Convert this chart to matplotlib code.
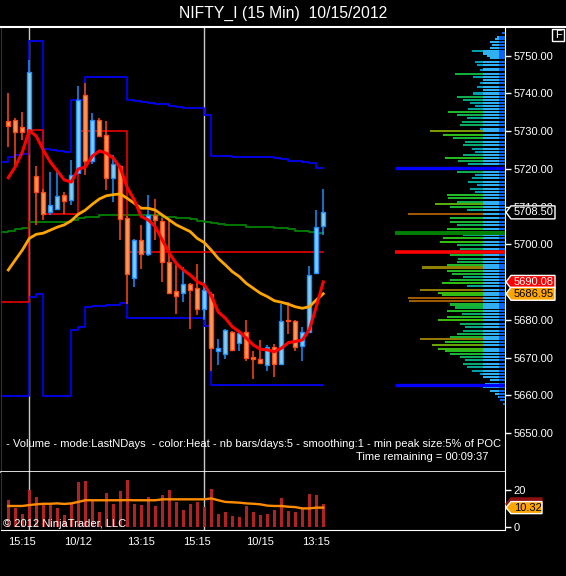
import numpy as np
import matplotlib
matplotlib.use('Agg')
import matplotlib.pyplot as plt
from matplotlib.colors import LinearSegmentedColormap
from matplotlib.patches import Polygon, Rectangle
from matplotlib.lines import Line2D

plt.rcParams['font.family'] = ['Liberation Sans', 'DejaVu Sans']

# ---- 15 min bars, NIFTY_I ----
opens = [5732.7, 5733.0, 5731.0, 5729.9, 5718.1, 5713.8, 5708.6, 5709.5, 5713.2, 5711.9,
         5719.0, 5739.7, 5722.2, 5733.1, 5729.1, 5717.7, 5720.7, 5706.9, 5691.2, 5701.1,
         5697.4, 5707.9, 5706.2, 5695.4, 5687.6, 5687.1, 5689.6, 5688.6, 5683.0, 5687.0,
         5671.8, 5671.1, 5676.8, 5673.9, 5676.8, 5670.3, 5669.7, 5668.1, 5672.8, 5668.4,
         5680.0, 5679.7, 5673.0, 5676.8, 5692.5, 5704.9]
highs = [5740.2, 5733.4, 5735.1, 5749.0, 5720.8, 5714.8, 5719.2, 5719.5, 5714.0, 5722.5,
         5742.0, 5742.8, 5734.9, 5733.4, 5732.8, 5723.7, 5721.0, 5707.5, 5701.5, 5705.1,
         5713.0, 5712.0, 5706.9, 5706.4, 5694.5, 5694.0, 5689.8, 5694.7, 5690.1, 5687.4,
         5675.0, 5677.7, 5677.2, 5677.2, 5679.9, 5671.9, 5674.8, 5673.5, 5673.7, 5684.2,
         5684.8, 5679.9, 5678.1, 5694.2, 5709.1, 5714.8]
lows = [5725.9, 5721.0, 5727.8, 5729.5, 5705.1, 5706.4, 5707.8, 5709.1, 5708.0, 5710.4,
        5718.8, 5718.4, 5721.3, 5728.5, 5714.4, 5711.3, 5701.1, 5684.3, 5688.7, 5693.6,
        5697.0, 5701.1, 5690.1, 5687.0, 5681.7, 5684.8, 5677.7, 5681.2, 5679.9, 5666.6,
        5668.0, 5669.7, 5671.9, 5671.9, 5669.1, 5664.4, 5668.6, 5666.6, 5664.9, 5668.2,
        5676.4, 5671.8, 5669.1, 5676.6, 5692.1, 5702.4]
closes = [5731.4, 5729.9, 5729.9, 5745.6, 5714.0, 5708.2, 5710.4, 5712.8, 5711.5, 5718.3,
          5738.4, 5722.2, 5733.1, 5728.8, 5717.7, 5721.2, 5706.7, 5692.3, 5701.1, 5697.6,
          5707.9, 5706.6, 5695.4, 5687.1, 5686.35, 5689.6, 5688.0, 5683.0, 5688.0, 5672.65,
          5672.65, 5677.4, 5672.1, 5676.6, 5670.0, 5669.6, 5668.7, 5672.8, 5668.4, 5679.7,
          5679.8, 5672.8, 5676.8, 5692.0, 5704.5, 5708.5]
volumes = [14.4, 10.3, 6.9, 19.8, 16.1, 11.7, 11.7, 10.1, 6.3, 12.1,
           24.2, 24.7, 14.1, 7.9, 18.2, 12.3, 19.3, 25.2, 12.3, 11.7,
           16.1, 11.2, 17.1, 19.8, 13.4, 9.0, 12.3, 13.4, 10.6, 20.4,
           6.9, 7.9, 5.8, 5.2, 11.2, 7.9, 6.3, 6.9, 9.0, 15.5,
           8.5, 7.9, 9.6, 17.7, 17.1, 12.3]
vol_ma = [11.2, 11.2, 11.2, 11.7, 12.1, 12.4, 12.4, 12.6, 12.3, 12.6,
          13.4, 14.3, 14.3, 14.3, 14.3, 14.3, 14.3, 14.4, 14.3, 14.3,
          14.3, 14.3, 14.8, 14.8, 14.8, 14.8, 14.8, 14.8, 14.8, 15.3,
          14.3, 13.4, 13.2, 13.0, 12.6, 12.4, 12.1, 11.4, 11.2, 11.2,
          10.8, 10.6, 9.9, 9.9, 10.3, 10.32]

ema_fast = [5717.7, 5720.6, 5724.5, 5730.2, 5728.7, 5725.0, 5721.85, 5719.5, 5717.1, 5716.55,
            5720.0, 5720.5, 5723.4, 5724.8, 5724.2, 5722.9, 5720.3, 5715.0, 5711.8, 5707.4,
            5706.5, 5704.7, 5701.2, 5697.7, 5695.0, 5693.25, 5691.9, 5690.15, 5689.3, 5686.4,
            5682.1, 5680.5, 5678.2, 5676.9, 5675.2, 5673.4, 5672.25, 5672.1, 5671.6, 5672.5,
            5674.0, 5674.3, 5674.7, 5677.4, 5683.5, 5690.08]
ema_slow = [5693.25, 5695.9, 5698.5, 5701.6, 5702.7, 5703.0, 5703.8, 5704.6, 5705.2, 5706.3,
            5708.0, 5709.1, 5710.65, 5712.05, 5712.9, 5713.2, 5713.4, 5712.2, 5710.9, 5709.6,
            5709.6, 5709.1, 5707.8, 5706.5, 5705.2, 5704.3, 5703.4, 5701.6, 5700.5, 5698.5,
            5696.3, 5694.6, 5692.8, 5691.5, 5689.7, 5688.4, 5687.1, 5686.2, 5685.1, 5684.7,
            5684.2, 5683.5, 5683.1, 5683.5, 5685.3, 5686.95]

# step indicators, first value belongs to the bar before the first visible one
va_high = [5721.9, 5723.25, 5723.7, 5723.9, 5753.9, 5753.9, 5725.2, 5725.0, 5724.8, 5724.4,
           5738.3, 5738.3, 5744.3, 5744.3, 5744.3, 5744.3, 5744.3, 5744.3, 5738.3, 5738.0,
           5737.7, 5737.4, 5737.1, 5737.1, 5736.7, 5736.3, 5736.1, 5736.1, 5736.1, 5734.3,
           5723.4, 5723.4, 5723.4, 5723.1, 5723.1, 5723.1, 5723.1, 5723.1, 5723.1, 5722.8,
           5722.6, 5722.2, 5722.2, 5721.9, 5721.5, 5720.2, 5720.2]
va_low = [5659.9, 5659.9, 5659.9, 5659.9, 5686.0, 5686.9, 5659.9, 5659.9, 5659.9, 5659.9,
          5677.4, 5678.1, 5683.4, 5683.6, 5683.6, 5684.0, 5684.0, 5684.4, 5680.5, 5680.5,
          5680.5, 5680.5, 5680.5, 5680.5, 5680.5, 5680.5, 5680.5, 5680.5, 5680.5, 5678.4,
          5662.8, 5662.8, 5662.8, 5662.8, 5662.8, 5662.8, 5662.8, 5662.8, 5662.8, 5662.8,
          5662.8, 5662.8, 5662.8, 5662.8, 5662.8, 5662.8, 5662.8]
vwap = [5703.2, 5703.6, 5704.0, 5704.3, 5705.9, 5705.9, 5705.9, 5705.9, 5705.9, 5705.9,
        5706.5, 5706.9, 5707.4, 5707.4, 5707.8, 5707.8, 5707.8, 5707.8, 5707.8, 5707.8,
        5707.8, 5707.8, 5707.8, 5707.2, 5707.2, 5706.9, 5706.9, 5706.7, 5706.3, 5706.0,
        5705.6, 5705.35, 5705.1, 5705.1, 5705.1, 5704.7, 5704.6, 5704.6, 5704.6, 5704.3,
        5704.3, 5704.0, 5703.65, 5703.5, 5703.2, 5703.1, 5703.1]
poc = [5684.7, 5684.7, 5684.7, 5684.7, 5730.3, 5730.3, 5708.0, 5708.0, 5708.0, 5708.0,
       5708.0, 5730.0, 5730.0, 5730.0, 5730.0, 5730.0, 5730.0, 5730.0] + [5697.9] * 29

# volume profile (price level, length)
prof_price = [5756.0, 5755.0, 5754.5, 5753.7, 5752.8, 5752.0, 5751.3, 5750.6, 5750.0, 5749.3,
              5748.4, 5747.5, 5746.6, 5746.2, 5745.1, 5744.4, 5743.6, 5742.7, 5741.8, 5740.9,
              5740.0, 5739.1, 5738.3, 5737.4, 5736.7, 5736.0, 5735.2, 5734.3, 5733.4, 5732.5,
              5731.6, 5730.7, 5730.0, 5729.1, 5728.1, 5727.2, 5726.3, 5725.4, 5724.5, 5723.8,
              5723.0, 5722.2, 5721.3, 5720.3, 5719.2, 5718.4, 5717.5, 5716.6, 5715.7, 5714.8,
              5713.9, 5713.1, 5712.2, 5711.3, 5710.7, 5710.0, 5709.1, 5708.0, 5707.1, 5706.0,
              5705.1, 5704.2, 5703.3, 5702.4, 5701.6, 5700.7, 5699.8, 5698.9, 5698.0, 5697.1,
              5696.2, 5695.4, 5694.5, 5693.9, 5693.0, 5692.3, 5691.4, 5690.5, 5689.8, 5688.9,
              5688.0, 5687.1, 5686.5, 5685.9, 5685.0, 5684.1, 5683.3, 5682.4, 5681.5, 5680.8,
              5680.1, 5679.0, 5678.1, 5677.2, 5676.4, 5675.5, 5675.0, 5674.1, 5673.3, 5672.4,
              5671.8, 5671.1, 5670.2, 5669.3, 5668.4, 5667.5, 5666.6, 5665.8, 5664.9, 5664.0,
              5662.9, 5662.2, 5661.3, 5660.4, 5659.6, 5658.7, 5657.8]
prof_len = [3, 8, 10, 15, 13, 15, 33, 22, 18, 15,
            30, 28, 22, 25, 50, 32, 22, 25, 28, 22,
            32, 48, 42, 35, 30, 37, 57, 48, 38, 43,
            45, 25, 75, 62, 52, 40, 42, 33, 30, 42,
            60, 47, 37, 55, 48, 30, 33, 37, 28, 35,
            30, 58, 57, 48, 70, 55, 38, 97, 55, 55,
            48, 58, 60, 42, 62, 65, 48, 45, 65, 55,
            47, 48, 58, 83, 58, 53, 42, 55, 63, 38,
            85, 67, 63, 97, 96, 55, 50, 58, 43, 58,
            67, 45, 40, 42, 48, 55, 85, 60, 73, 67,
            60, 55, 45, 40, 42, 38, 33, 25, 22, 15,
            20, 22, 15, 10, 7, 5, 2.5]

tick_pos = [2, 10, 19, 27, 36, 44]
tick_lab = ['15:15', '10/12', '13:15', '15:15', '10/15', '13:15']
session_ends = [3, 28]

W, H = 566, 576
fig = plt.figure(figsize=(W / 100, H / 100), dpi=100, facecolor='black')


def fx(px):
    return px / W


def fy(py):
    return 1 - py / H


ax = fig.add_axes([fx(1), fy(472), fx(505) - fx(1), fy(27) - fy(472)], facecolor='black')
axv = fig.add_axes([fx(1), fy(530), fx(505) - fx(1), fy(472) - fy(530)], facecolor='black')

x = np.arange(len(closes))
xs = np.arange(-1, len(closes))

ax.set_xlim(-1.04, 70.96)
ax.set_ylim(5639.73, 5757.61)
axv.set_xlim(-1.04, 70.96)
axv.set_ylim(-1.78, 29.57)

for a in (ax, axv):
    for xe in session_ends:
        a.axvline(xe, color='#c8c8c8', lw=1, zorder=1)

# step lines
ax.plot(xs, va_high, drawstyle='steps-post', color='#0000f0', lw=1.3, zorder=2)
ax.plot(xs, va_low, drawstyle='steps-post', color='#0000f0', lw=1.3, zorder=2)
ax.plot(xs, vwap, drawstyle='steps-post', color='#008000', lw=1.3, zorder=2)
ax.plot(xs, poc, drawstyle='steps-post', color='#ff0000', lw=1.1, zorder=2)

# candles
o = np.array(opens)
c = np.array(closes)
up = c >= o
wick_col = np.where(up, '#1e90ff', '#ff4a10')
body_col = np.where(up, '#87cdf0', '#ff9a5a')
ax.vlines(x, lows, highs, colors=wick_col, lw=1.1, zorder=3)
hgt = np.where(np.abs(c - o) < 0.15, 0.15, c - o)
ax.bar(x, hgt, bottom=o, width=0.62, color=body_col, edgecolor=wick_col, lw=1, zorder=4)

ax.plot(x, ema_slow, color='#ffa500', lw=2.0, zorder=5)
ax.plot(x, ema_fast, color='#ff0000', lw=2.2, zorder=5)

# volume profile on the right side
axp = fig.add_axes(ax.get_position(), sharey=ax)
axp.set_xlim(504, 0)
axp.axis('off')
axp.patch.set_alpha(0)
heat = LinearSegmentedColormap.from_list('heat', [
    (0.0, '#0040ff'), (0.2, '#0090e0'), (0.35, '#00a0a0'), (0.5, '#10b040'),
    (0.65, '#30c010'), (0.75, '#7a9a00'), (0.88, '#9a7000'), (1.0, '#a05000')])
pl = np.array(prof_len, dtype=float)
axp.barh(prof_price, pl, height=0.55, color=heat(pl / 100), lw=0, zorder=2)
axp.barh(prof_price, np.minimum(pl, 22), height=0.55, color='#30b0f0', lw=0, zorder=3)
axp.barh(prof_price, np.minimum(pl, 6), height=0.55, color='#1060ff', lw=0, zorder=3)
ext = 110
axp.hlines(va_high[-1], 0, ext, color='#0000ff', lw=2.4, zorder=4)
axp.hlines(va_low[-1], 0, ext, color='#0000ff', lw=2.4, zorder=4)
axp.hlines(vwap[-1], 0, ext, color='#008000', lw=2.8, zorder=4)
axp.hlines(poc[-1], 0, ext, color='#ff0000', lw=2.6, zorder=4)

# volume panel
axv.bar(x, volumes, width=0.42, color='#b22222', lw=0, zorder=2)
axv.plot(x, vol_ma, color='#ff8c00', lw=1.7, zorder=3)

# axes styling
for a in (ax, axv):
    a.yaxis.tick_right()
    a.tick_params(axis='y', colors='white', length=4, width=1, labelsize=8, pad=2)
    for s in ('top', 'bottom', 'right'):
        a.spines[s].set_color('white')
    a.spines['left'].set_color('#303030')
ax.spines['top'].set_visible(False)
axv.spines['top'].set_visible(False)
ax.spines['bottom'].set_linewidth(1.2)
ax.set_xticks([])
ax.set_yticks(np.arange(5650, 5751, 10))
ax.set_yticklabels(['%.2f' % v for v in np.arange(5650, 5751, 10)])
axv.set_yticks([0, 20])
axv.set_xticks(tick_pos)
axv.set_xticklabels(tick_lab)
axv.tick_params(axis='x', colors='white', length=0, labelsize=8, pad=5)

fig.add_artist(Line2D([0, 1], [fy(27)] * 2, color='white', lw=1.5, transform=fig.transFigure))


def tag(a, val, txt, fc, ec, tc, x0=506, x1=555, h=13):
    yd = a.transData.transform((0, val))[1]
    pts = [(x0, yd), (x0 + 5, yd + h / 2), (x1, yd + h / 2), (x1, yd - h / 2), (x0 + 5, yd - h / 2)]
    fig.add_artist(Polygon([(px / W, py / H) for px, py in pts], closed=True, fc=fc, ec=ec,
                           lw=1, transform=fig.transFigure, zorder=10))
    fig.text((x0 + 8) / W, yd / H, txt, color=tc, fontsize=8, va='center', ha='left', zorder=11)


tag(ax, closes[-1], '%.2f' % closes[-1], 'black', 'white', 'white')
tag(ax, ema_fast[-1], '%.2f' % ema_fast[-1], '#ff0000', '#ffffff', 'white')
tag(ax, ema_slow[-1], '%.2f' % ema_slow[-1], '#ffa500', '#ffffff', 'black')
tag(axv, volumes[-1], '', '#8b1010', '#8b1010', 'white', x1=542, h=12)
tag(axv, vol_ma[-1], '%.2f' % vol_ma[-1], '#ffa500', '#ffffff', 'black', x1=542, h=12)

fig.add_artist(Rectangle((fx(552), fy(41)), 12 / W, 12 / H, fc='black', ec='white', lw=1,
                         transform=fig.transFigure))
fig.text(fx(558), fy(35), 'F', color='white', fontsize=8, ha='center', va='center')

fig.text(0.5, fy(13), 'NIFTY_I (15 Min)  10/15/2012', color='white', fontsize=11.3,
         ha='center', va='center')
fig.text(fx(501), fy(444), ' - Volume - mode:LastNDays  - color:Heat - nb bars/days:5 - smoothing:1 - min peak size:5% of POC',
         color='white', fontsize=8, ha='right', va='center')
fig.text(fx(488), fy(457), 'Time remaining = 00:09:37', color='white', fontsize=8,
         ha='right', va='center')
fig.text(fx(3), fy(524), '\u00a9 2012 NinjaTrader, LLC', color='white', fontsize=8,
         ha='left', va='center')

fig.savefig('out.png', dpi=100, facecolor='black')
